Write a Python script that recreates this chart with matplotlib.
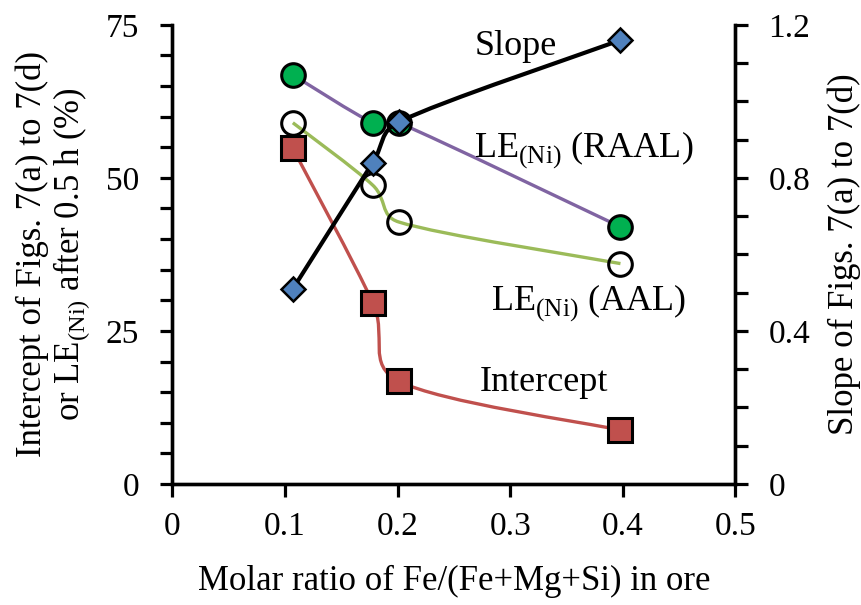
import numpy as np
import matplotlib.pyplot as plt
from matplotlib.path import Path
from matplotlib.patches import PathPatch
from matplotlib.ticker import MultipleLocator

plt.rcParams['font.family'] = 'Liberation Serif'
plt.rcParams['mathtext.fontset'] = 'custom'
plt.rcParams['mathtext.rm'] = 'Liberation Serif'

# data
fe_ratio = [0.107, 0.178, 0.201, 0.398]
le_raal = [66.8, 59.0, 59.0, 42.0]
le_aal = [59.0, 48.8, 42.8, 36.0]
intercept = [54.8, 29.6, 16.8, 8.8]
slope = [0.51, 0.84, 0.946, 1.16]


def smooth_line(ax, xs, ys, xspan, yspan, color, lw=2.0, z=2):
    # Excel style smoothed line (Catmull-Rom as cubic bezier), done in screen-like units
    sx, sy = 563 / xspan, 459 / yspan
    p = np.column_stack([np.array(xs) * sx, np.array(ys) * sy])
    n = len(p)
    verts = [p[0]]
    codes = [Path.MOVETO]
    for i in range(n - 1):
        p0 = p[i - 1] if i > 0 else p[i]
        p3 = p[i + 2] if i + 2 < n else p[i + 1]
        seg = np.linalg.norm(p[i + 1] - p[i])
        d1 = (p[i + 1] - p0) / 6
        d2 = (p3 - p[i]) / 6
        # keep handles short on short segments so there are no loops
        if np.linalg.norm(d1) > 0.45 * seg:
            d1 = d1 / np.linalg.norm(d1) * 0.45 * seg
        if np.linalg.norm(d2) > 0.45 * seg:
            d2 = d2 / np.linalg.norm(d2) * 0.45 * seg
        verts += [p[i] + d1, p[i + 1] - d2, p[i + 1]]
        codes += [Path.CURVE4] * 3
    v = np.array(verts) / [sx, sy]
    ax.add_patch(PathPatch(Path(v, codes), fill=False, ec=color, lw=lw, zorder=z))


fig = plt.figure(figsize=(8.62, 6.05), dpi=100)
ax = fig.add_axes([0.2, 0.2, 0.653, 0.759])
ax2 = ax.twinx()

smooth_line(ax, fe_ratio, le_raal, 0.5, 75, '#8064A2', lw=2.4)
smooth_line(ax, fe_ratio, le_aal, 0.5, 75, '#9BBB59', lw=2.4)
smooth_line(ax, fe_ratio, intercept, 0.5, 75, '#C0504D', lw=2.4)
ax.plot(fe_ratio, le_raal, 'o', ms=17, mfc='#00B050', mec='black', mew=2.2, zorder=3)
ax.plot(fe_ratio, le_aal, 'o', ms=17, mfc='none', mec='black', mew=2.2, zorder=3)
ax.plot(fe_ratio, intercept, 's', ms=17, mfc='#C0504D', mec='black', mew=2.2, zorder=3)

smooth_line(ax2, fe_ratio, slope, 0.5, 1.2, 'black', lw=3)
ax2.plot(fe_ratio, slope, 'D', ms=12.5, mfc='#4F81BD', mec='black', mew=1.8, zorder=3)

ax.set_xlim(0, 0.5)
ax.set_ylim(0, 75)
ax2.set_ylim(0, 1.2)
ax.set_xticks([0, 0.1, 0.2, 0.3, 0.4, 0.5])
ax.set_xticklabels(['0', '0.1', '0.2', '0.3', '0.4', '0.5'])
ax.set_yticks([0, 25, 50, 75])
ax.yaxis.set_minor_locator(MultipleLocator(5))
ax2.set_yticks([0, 0.4, 0.8, 1.2])
ax2.set_yticklabels(['0', '0.4', '0.8', '1.2'])
ax2.yaxis.set_minor_locator(MultipleLocator(0.1))

for a in (ax, ax2):
    a.spines['top'].set_visible(False)
    for s in a.spines.values():
        s.set_linewidth(2.4)
    a.tick_params(which='both', direction='out', width=2.3, length=9, labelsize=24)
ax.tick_params(axis='y', pad=15)
ax.tick_params(axis='x', pad=11)
ax2.tick_params(axis='y', pad=15)

ax.set_xlabel('Molar ratio of Fe/(Fe+Mg+Si) in ore', fontsize=25, labelpad=16)
ax.set_ylabel('Intercept of Figs. 7(a) to 7(d)\nor LE$_{\\mathrm{(Ni)}}$ after 0.5 h (%)',
              fontsize=25, linespacing=1.1, labelpad=10)
ax2.set_ylabel('Slope of Figs. 7(a) to 7(d)', fontsize=25, labelpad=12)

ax.text(0.305, 71.5, 'Slope', fontsize=26, ha='center', va='center')
ax.text(0.365, 54.5, 'LE$_{\\mathrm{(Ni)}}$ (RAAL)', fontsize=26, ha='center', va='center')
ax.text(0.37, 29.5, 'LE$_{\\mathrm{(Ni)}}$ (AAL)', fontsize=26, ha='center', va='center')
ax.text(0.33, 16.5, 'Intercept', fontsize=26, ha='center', va='center')

fig.savefig('out.png', dpi=100)
